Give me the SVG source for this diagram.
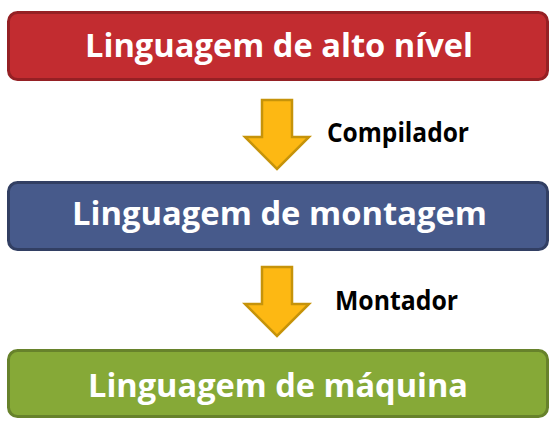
<svg xmlns="http://www.w3.org/2000/svg" width="560" height="424" viewBox="0 0 560 424">
  <style>
    .box { stroke-width: 3; }
    .red { fill: #C22C30; stroke: #952024; }
    .blue { fill: #475A8B; stroke: #323F63; }
    .green { fill: #86A937; stroke: #67822B; }
    .title { font-family: "Open Sans", "Noto Sans", sans-serif; font-weight: bold; font-size: 33px; fill: #FFFFFF; }
    .label { font-family: "Open Sans", "Noto Sans", sans-serif; font-weight: bold; font-size: 26px; fill: #000000; }
    .arrow { fill: #FDB813; stroke: #C6930A; stroke-width: 2.5; stroke-linejoin: miter; }
  </style>
  <defs>
    <path id="downArrow" d="M17,0 H47 V37 H64 L32,69 L0,37 H17 Z"/>
  </defs>

  <g id="node-alto-nivel">
    <rect class="box red" x="8.5" y="12.5" width="539" height="67" rx="9"/>
    <text class="title" x="85" y="57" textLength="388" lengthAdjust="spacingAndGlyphs">Linguagem de alto nível</text>
  </g>

  <g id="node-montagem">
    <rect class="box blue" x="8.5" y="182.5" width="539" height="67" rx="9"/>
    <text class="title" x="72" y="225" textLength="415" lengthAdjust="spacingAndGlyphs">Linguagem de montagem</text>
  </g>

  <g id="node-maquina">
    <rect class="box green" x="8.5" y="350.5" width="539" height="66" rx="9"/>
    <text class="title" x="88" y="397" textLength="380" lengthAdjust="spacingAndGlyphs">Linguagem de máquina</text>
  </g>

  <g id="connectors">
    <use href="#downArrow" class="arrow" x="245" y="100"/>
    <text class="label" x="327" y="142" textLength="142" lengthAdjust="spacingAndGlyphs">Compilador</text>
    <use href="#downArrow" class="arrow" x="245" y="267"/>
    <text class="label" x="335" y="310" textLength="123" lengthAdjust="spacingAndGlyphs">Montador</text>
  </g>
</svg>
